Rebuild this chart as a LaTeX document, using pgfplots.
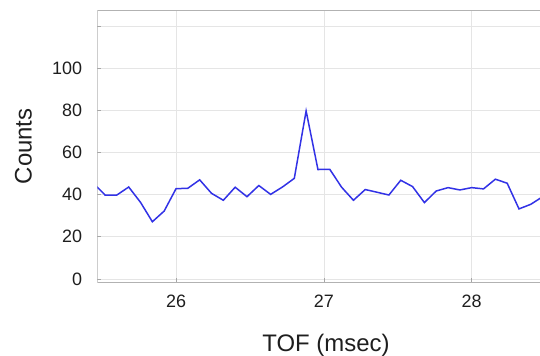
\documentclass[border=0pt]{standalone}
\usepackage{fontspec}
\setmainfont{Liberation Sans}
\usepackage{pgfplots}
\pgfplotsset{compat=1.18}
\definecolor{lineblue}{RGB}{50,50,230}
\definecolor{txt}{RGB}{30,30,30}
\begin{document}
\begin{tikzpicture}
\begin{axis}[
  name=ax, at={(0,0)}, anchor=south west,
  scale only axis, width=442.7bp, height=271.3bp,
  xmin=25.4675, xmax=28.462, ymin=-1.5, ymax=127.3,
  xtick={26,27,28}, ytick={0,20,40,60,80,100,120},
  yticklabels={0,20,40,60,80,100,},
  /pgf/number format/assume math mode=true,
  axis line style={draw=none},
  grid=major, major grid style={gray!20, line width=0.6bp},
  tick style={gray!70, line width=0.6bp}, major tick length=4bp,
  xtick pos=bottom, ytick pos=left, tick align=inside,
  ticklabel style={font=\fontsize{18}{20}\selectfont, text=txt},
  xticklabel style={anchor=north, inner sep=0pt, yshift=-13bp},
  yticklabel style={anchor=east, inner sep=0pt, xshift=-15bp},
  xlabel={TOF (msec)}, ylabel={Counts},
  xlabel style={at={(axis description cs:0.5166,0)}, anchor=base, yshift=-69.5bp, inner sep=0pt, font=\fontsize{24}{26}\selectfont, text=txt},
  ylabel style={at={(axis description cs:-0.1672,0.5)}, anchor=center, inner sep=0pt, font=\fontsize{24}{26}\selectfont, text=txt},
]
\draw[gray!60, line width=0.8bp] (rel axis cs:0,1) -- (rel axis cs:0,0) -- (rel axis cs:1,0);
\draw[gray!60, line width=0.8bp] (rel axis cs:0,1) -- (rel axis cs:1,1);
\addplot[color=lineblue, line width=1.5bp, mark=none] coordinates {
(25.44,45.5) (25.52,39.8) (25.60,39.8) (25.68,43.6) (25.76,36.3) (25.84,27.1)
(25.92,32.2) (26.00,42.8) (26.08,43.0) (26.16,47.0) (26.24,40.6) (26.32,37.3)
(26.40,43.5) (26.48,39.0) (26.56,44.3) (26.64,40.1) (26.72,43.6) (26.80,47.7)
(26.88,79.7) (26.96,51.9) (27.04,52.0) (27.12,43.5) (27.20,37.3) (27.28,42.4)
(27.36,41.1) (27.44,39.8) (27.52,46.8) (27.60,43.8) (27.68,36.2) (27.76,41.7)
(27.84,43.3) (27.92,42.2) (28.00,43.3) (28.08,42.7) (28.16,47.3) (28.24,45.4)
(28.32,33.2) (28.40,35.4) (28.48,39.0)
};
\end{axis}
\pgfresetboundingbox
\useasboundingbox (-97.3bp,-74bp) rectangle (442.7bp,282bp);
\end{tikzpicture}
\end{document}
